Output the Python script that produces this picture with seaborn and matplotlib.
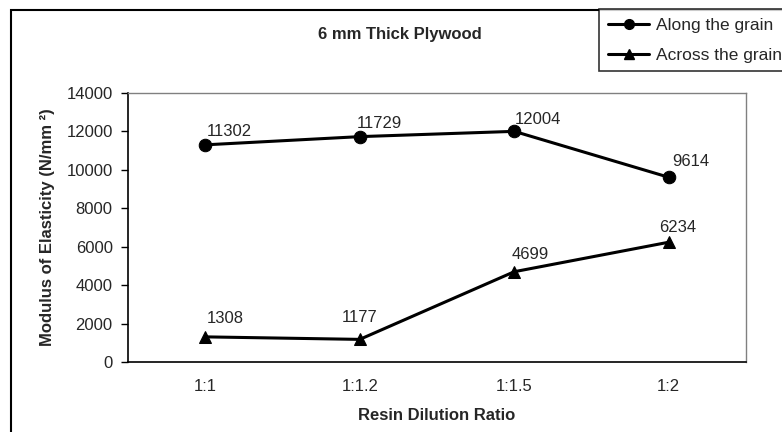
import pandas as pd
import matplotlib.pyplot as plt
import seaborn as sns
from matplotlib.patches import Rectangle

# Data
ratios = ['1:1', '1:1.2', '1:1.5', '1:2']
along_grain = [11302, 11729, 12004, 9614]
across_grain = [1308, 1177, 4699, 6234]

# label nudges (pixels) so numbers sit like in the original
along_offsets = [(24, 13), (20, 13), (24, 12), (22, 16)]
across_offsets = [(20, 18), (0, 22), (16, 17), (9, 15)]

df = pd.DataFrame({
    'Ratio': ratios * 2,
    'MOE': along_grain + across_grain,
    'Series': ['Along the grain'] * 4 + ['Across the grain'] * 4,
})

sns.set_style('white')
plt.rcParams['font.family'] = ['Liberation Sans', 'DejaVu Sans']

fig = plt.figure(figsize=(7.82, 4.32), dpi=100)
ax = fig.add_axes([128 / 782, 1 - 362 / 432, 618 / 782, 269 / 432])

sns.lineplot(data=df, x='Ratio', y='MOE', style='Series', markers=['o', '^'],
             dashes=False, color='black', linewidth=2.2, markersize=9,
             markeredgecolor='black', ax=ax, legend=False, sort=False)

for vals, offs in [(along_grain, along_offsets), (across_grain, across_offsets)]:
    for i, (v, off) in enumerate(zip(vals, offs)):
        ax.annotate(str(v), (i, v), xytext=off, textcoords='offset pixels',
                    ha='center', va='center', fontsize=12)

ax.set_xlim(-0.5, 3.5)
ax.set_ylim(0, 14000)
ax.set_yticks(range(0, 14001, 2000))
ax.set_xticks([-0.5, 0.5, 1.5, 2.5, 3.5])
ax.set_xticklabels([])
ax.set_xticks(range(4), minor=True)
ax.set_xticklabels(ratios, minor=True)
ax.tick_params(axis='x', which='major', direction='out', length=5, width=1, color='black')
ax.tick_params(axis='x', which='minor', length=0, pad=12, labelsize=12)
ax.tick_params(axis='y', direction='out', length=5, width=1, color='black', pad=6, labelsize=12, left=True)

for side in ['top', 'right']:
    ax.spines[side].set_color('#808080')
    ax.spines[side].set_linewidth(1)
for side in ['left', 'bottom']:
    ax.spines[side].set_color('black')
    ax.spines[side].set_linewidth(1.2)

ax.set_xlabel('Resin Dilution Ratio', fontsize=12, fontweight='bold', labelpad=10)
ax.set_ylabel('Modulus of Elasticity (N/mm ²)', fontsize=12, fontweight='bold', labelpad=8)

fig.text(400 / 782, 1 - 35 / 432, '6 mm Thick Plywood', ha='center', va='center',
         fontsize=12, fontweight='bold')

# legend, partially cut off at the right edge like the original
handles = [plt.Line2D([], [], color='black', lw=2.2, marker='o', markersize=7),
           plt.Line2D([], [], color='black', lw=2.2, marker='^', markersize=7)]
leg = fig.legend(handles, ['Along the grain', 'Across the grain'], loc='upper left',
                 bbox_to_anchor=(599 / 782, 1 - 9 / 432), fontsize=12.5, frameon=True,
                 fancybox=False, edgecolor='black', borderpad=0.5, labelspacing=0.85,
                 handlelength=2.4, handletextpad=0.4, borderaxespad=0)
leg.get_frame().set_linewidth(1.2)

# outer chart border
fig.patches.append(Rectangle((11 / 782, -0.1), 1.2, 1 - 10 / 432 + 0.1,
                             transform=fig.transFigure, fill=False,
                             edgecolor='black', linewidth=1.5, zorder=-1))

plt.savefig('out.png', dpi=100)
plt.close()
